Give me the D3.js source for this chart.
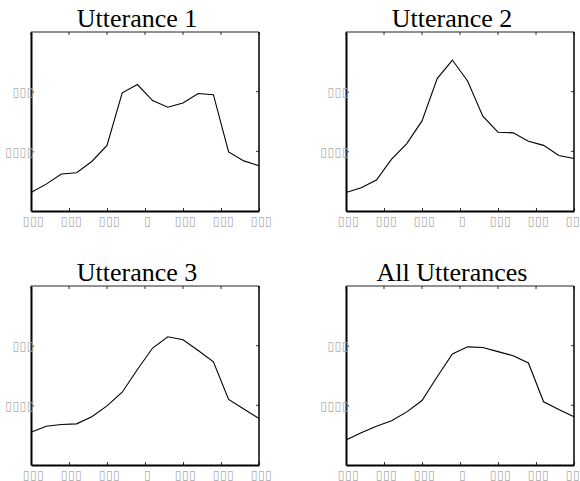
<!DOCTYPE html>
<html>
<head>
<meta charset="utf-8">
<script src="https://cdn.jsdelivr.net/npm/d3@7"></script>
<style>
  body { margin: 0; background: #fff; }
  svg { display: block; }
  .title { font-family: "Liberation Serif", "DejaVu Serif", serif; font-size: 26px; }
  .box { font-family: "DejaVu Sans", sans-serif; font-size: 12px; letter-spacing: 0.6px; }
</style>
</head>
<body>
<div id="chart"></div>
<script>
// frame index along each utterance
const frames = [0, 1, 2, 3, 4, 5, 6, 7, 8, 9, 10, 11, 12, 13, 14, 15];

const utterance1 = [0.31, 0.45, 0.62, 0.64, 0.83, 1.10, 1.98, 2.12, 1.85, 1.74, 1.81, 1.97, 1.95, 0.99, 0.84, 0.76];
const utterance2 = [0.31, 0.39, 0.52, 0.87, 1.13, 1.51, 2.22, 2.53, 2.18, 1.59, 1.32, 1.31, 1.17, 1.10, 0.93, 0.88];
const utterance3 = [0.55, 0.65, 0.68, 0.69, 0.81, 0.99, 1.22, 1.60, 1.96, 2.15, 2.10, 1.92, 1.73, 1.10, 0.94, 0.78];
const utteranceAll = [0.42, 0.54, 0.65, 0.74, 0.89, 1.08, 1.48, 1.86, 1.98, 1.97, 1.90, 1.83, 1.71, 1.06, 0.93, 0.81];

const titles = ["Utterance 1", "Utterance 2", "Utterance 3", "All Utterances"];

// tick labels came out as empty boxes in the original
const xTicks = [0, 2.5, 5, 7.5, 10, 12.5, 15];
const xTickLabels = ["▯▯▯", "▯▯▯", "▯▯▯", "▯", "▯▯▯", "▯▯▯", "▯▯▯"];
const yTicks = [1, 2];
const yTickLabels = ["▯▯▯▯", "▯▯▯"];

const series = [utterance1, utterance2, utterance3, utteranceAll];

const W = 580, H = 481;
const svg = d3.select("#chart").append("svg")
    .attr("width", W)
    .attr("height", H);

// plot boxes: left, top
const boxes = [
    { x: 31, y: 32 }, { x: 346, y: 32 },
    { x: 31, y: 286 }, { x: 346, y: 286 }
];
const pw = 228, ph = 179;

series.forEach((vals, i) => {
    const b = boxes[i];
    const g = svg.append("g").attr("transform", `translate(${b.x},${b.y})`);

    const x = d3.scaleLinear().domain([0, 15]).range([0, pw]);
    const y = d3.scaleLinear().domain([0, 3]).range([ph, 0]);

    // top and right border (thin)
    g.append("line").attr("x1", 0).attr("x2", pw).attr("y1", 0).attr("y2", 0)
        .attr("stroke", "#222").attr("stroke-width", 1);
    g.append("line").attr("x1", pw).attr("x2", pw).attr("y1", 0).attr("y2", ph)
        .attr("stroke", "#000").attr("stroke-width", 1.5);

    // inward ticks on top and right
    g.selectAll(".ttick").data(xTicks).enter().append("line")
        .attr("x1", d => x(d)).attr("x2", d => x(d))
        .attr("y1", 0).attr("y2", 3)
        .attr("stroke", "#000").attr("stroke-width", 0.8);
    g.selectAll(".rtick").data(yTicks).enter().append("line")
        .attr("x1", pw).attr("x2", pw - 3)
        .attr("y1", d => y(d)).attr("y2", d => y(d))
        .attr("stroke", "#000").attr("stroke-width", 0.8);

    // bottom axis
    const xAxis = g.append("g")
        .attr("transform", `translate(0,${ph})`)
        .call(d3.axisBottom(x).tickValues(xTicks).tickSize(-3).tickSizeOuter(0)
            .tickFormat((d, k) => xTickLabels[k]));
    xAxis.attr("font-family", null).attr("font-size", null);
    xAxis.select(".domain").attr("stroke", "#000").attr("stroke-width", 2);
    xAxis.selectAll(".tick line").attr("stroke-width", 0.8);
    xAxis.selectAll(".tick text")
        .attr("class", "box")
        .attr("y", 5).attr("dx", 2)
        .attr("fill", "#aaa");

    // left axis
    const yAxis = g.append("g")
        .call(d3.axisLeft(y).tickValues(yTicks).tickSize(-3).tickSizeOuter(0)
            .tickFormat((d, k) => yTickLabels[k]));
    yAxis.attr("font-family", null).attr("font-size", null);
    yAxis.select(".domain").attr("stroke", "#000").attr("stroke-width", 2);
    yAxis.selectAll(".tick line").attr("stroke-width", 0.8);
    yAxis.selectAll(".tick text")
        .attr("class", "box")
        .attr("x", 3)
        .attr("fill", "#aaa");

    // the curve
    const line = d3.line()
        .x((d, k) => x(frames[k]))
        .y(d => y(d));
    g.append("path")
        .datum(vals)
        .attr("fill", "none")
        .attr("stroke", "#000")
        .attr("stroke-width", 1.1)
        .attr("d", line);

    // title
    g.append("text")
        .attr("class", "title")
        .attr("x", pw / 2 - 8)
        .attr("y", -5)
        .attr("text-anchor", "middle")
        .attr("fill", "#000")
        .text(titles[i]);
});
</script>
</body>
</html>
